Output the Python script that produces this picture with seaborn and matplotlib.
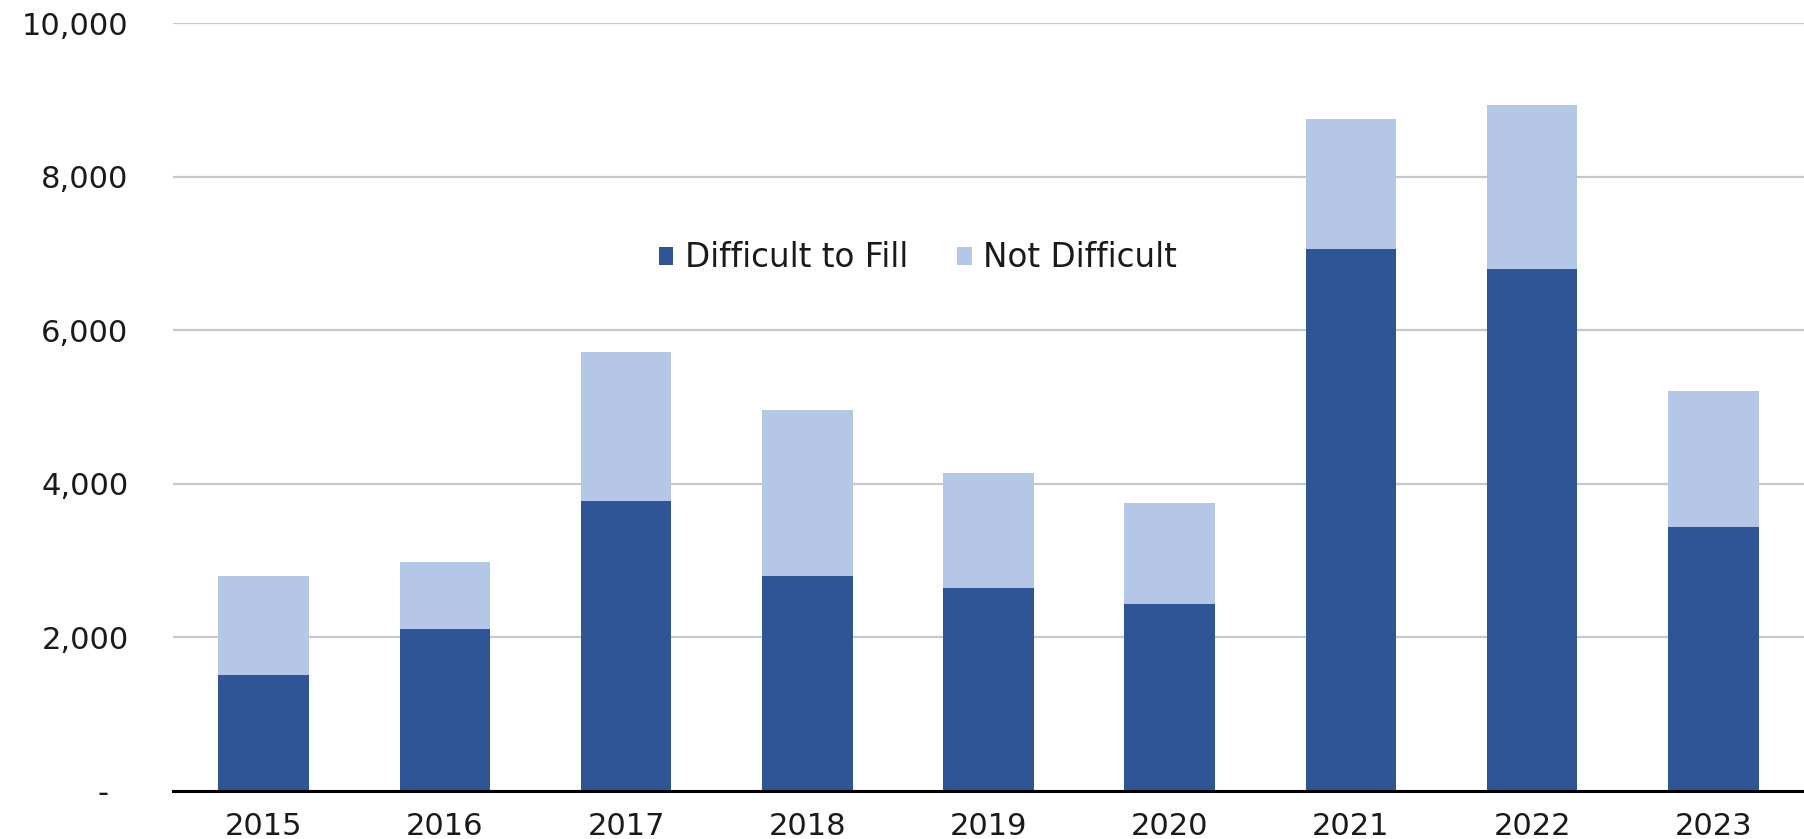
"""
Stacked bar chart: difficult vs not difficult to fill, 2015-2023
"""
import numpy as np
import pandas as pd
import seaborn as sns
import matplotlib.pyplot as plt

# values
years = ['2015', '2016', '2017', '2018', '2019', '2020', '2021', '2022', '2023']
difficult = [1514, 2114, 3778, 2804, 2639, 2429, 7054, 6802, 3444]
not_difficult = [1290, 870, 1934, 2159, 1499, 1319, 1693, 2127, 1766]
y_ticks = [0, 2000, 4000, 6000, 8000, 10000]
y_tick_labels = ['-  ', '2,000', '4,000', '6,000', '8,000', '10,000']

dark = '#2F5597'
light = '#B4C7E7'

df = pd.DataFrame({'Year': years, 'Difficult to Fill': difficult,
                   'Not Difficult': not_difficult})
df['Total'] = df['Difficult to Fill'] + df['Not Difficult']

sns.set_style('white')
plt.rcParams['font.family'] = ['DejaVu Sans']

fig = plt.figure(figsize=(18.04, 8.39), dpi=100)
ax = fig.add_axes([173 / 1804, 48 / 839, 1631 / 1804, 768 / 839])

# light bar = full stack height, dark bar drawn over it from zero
sns.barplot(data=df, x='Year', y='Total', color=light, saturation=1,
            width=0.5, linewidth=0, label='Not Difficult', ax=ax)
sns.barplot(data=df, x='Year', y='Difficult to Fill', color=dark, saturation=1,
            width=0.5, linewidth=0, label='Difficult to Fill', ax=ax)

ax.set_xlim(-0.5, len(years) - 0.5)
ax.set_ylim(0, 10000)
ax.set_yticks(y_ticks)
ax.set_yticklabels(y_tick_labels)
ax.set_xlabel('')
ax.set_ylabel('')

ax.tick_params(axis='y', length=0, pad=32, labelsize=22, colors='#1a1a1a')
ax.tick_params(axis='x', length=0, pad=15, labelsize=22, colors='#1a1a1a')

ax.yaxis.grid(True, color='#c8c8c8', linewidth=1.6)
ax.set_axisbelow(True)

sns.despine(ax=ax, left=True, top=True, right=True)
ax.spines['bottom'].set_color('black')
ax.spines['bottom'].set_linewidth(2.2)

handles, labels = ax.get_legend_handles_labels()
order = [labels.index('Difficult to Fill'), labels.index('Not Difficult')]
ax.legend([handles[i] for i in order], [labels[i] for i in order],
          loc='center', bbox_to_anchor=(3.61, 6941), bbox_transform=ax.transData,
          ncol=2, frameon=False, fontsize=23.5, handlelength=0.45, handleheight=0.45,
          handletextpad=0.35, columnspacing=1.5, labelcolor='#1a1a1a')

fig.savefig('out.png', dpi=100)
